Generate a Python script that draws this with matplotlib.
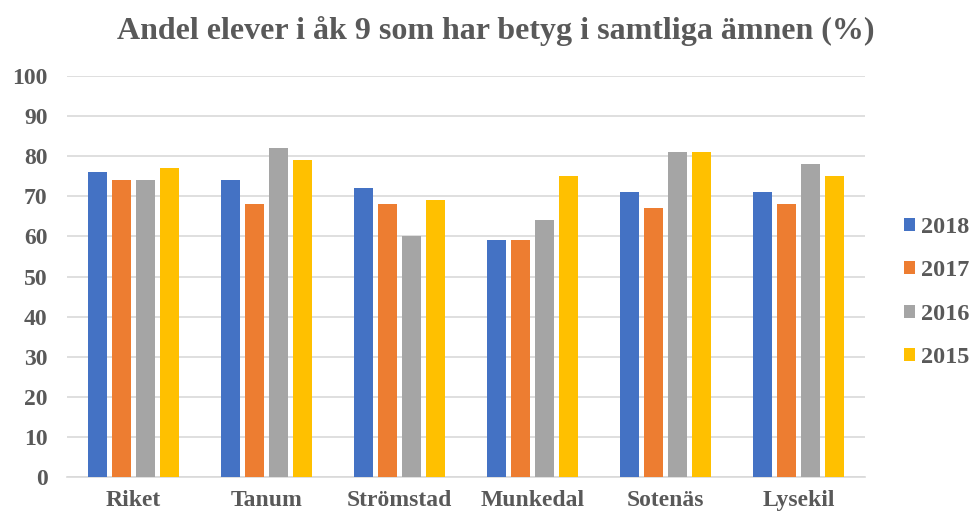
import numpy as np
import matplotlib
matplotlib.use('Agg')
import matplotlib.pyplot as plt

categories = ['Riket', 'Tanum', 'Strömstad', 'Munkedal', 'Sotenäs', 'Lysekil']
years = ['2018', '2017', '2016', '2015']
v2018 = [76, 74, 72, 59, 71, 71]
v2017 = [74, 68, 68, 59, 67, 68]
v2016 = [74, 82, 60, 64, 81, 78]
v2015 = [77, 79, 69, 75, 81, 75]
colors = ['#4472C4', '#ED7D31', '#A5A5A5', '#FFC000']

plt.rcParams['font.family'] = ['Liberation Serif', 'DejaVu Serif']
plt.rcParams['font.weight'] = 'bold'

fig = plt.figure(figsize=(9.73, 5.17), dpi=100)
ax = fig.add_axes([0.069, 0.077, 0.82, 0.776])

x = np.arange(len(categories))
step = 0.18
width = 0.145
for i, (vals, lab) in enumerate(zip([v2018, v2017, v2016, v2015], years)):
    ax.bar(x + (i - 1.5) * step, vals, width, color=colors[i], label=lab, zorder=3)

ax.set_xlim(-0.5, len(categories) - 0.5)
ax.set_ylim(0, 100)
ax.set_yticks(range(0, 101, 10))
ax.set_xticks(x)
ax.set_xticklabels(categories)
ax.grid(axis='y', color='#D9D9D9', linewidth=1.2, zorder=0)
for s in ['top', 'right', 'left']:
    ax.spines[s].set_visible(False)
ax.spines['bottom'].set_color('#D9D9D9')
ax.spines['bottom'].set_linewidth(1.2)
ax.tick_params(axis='both', length=0, labelsize=17, labelcolor='#595959')
ax.tick_params(axis='y', pad=14)
ax.tick_params(axis='x', pad=9)
for t in ax.get_xticklabels() + ax.get_yticklabels():
    t.set_fontweight('bold')

fig.suptitle('Andel elever i åk 9 som har betyg i samtliga ämnen (%)',
             x=0.509, y=0.97, fontsize=23, fontweight='bold', color='#595959')

leg = ax.legend(loc='center left', bbox_to_anchor=(1.037, 0.46), frameon=False,
                fontsize=17.5, handlelength=0.45, handleheight=0.45, labelspacing=0.92,
                handletextpad=0.25, borderaxespad=0)
for t in leg.get_texts():
    t.set_color('#595959')
    t.set_fontweight('bold')

fig.savefig('out.png', dpi=100)
